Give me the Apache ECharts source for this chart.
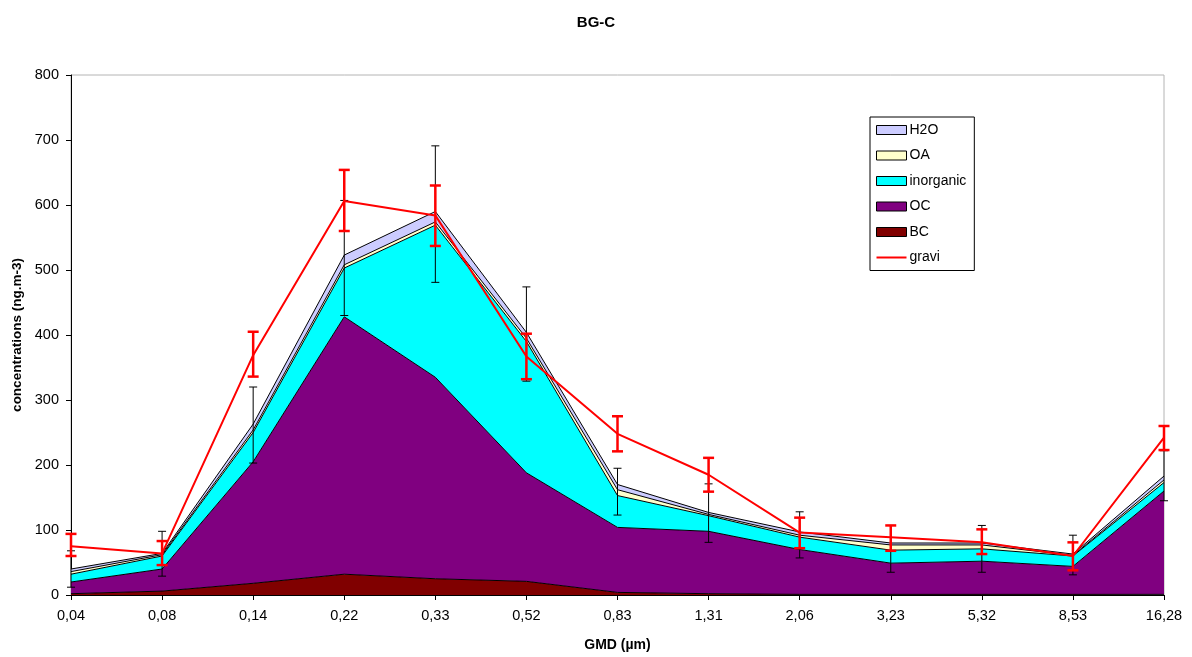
<!DOCTYPE html>
<html>
<head>
<meta charset="utf-8">
<script src="https://cdn.jsdelivr.net/npm/echarts@6/dist/echarts.min.js"></script>
<style>html,body{margin:0;padding:0;background:#fff;}#c{width:1192px;height:657px;}</style>
</head>
<body>
<div id="c"></div>
<script>
var categories = ['0,04','0,08','0,14','0,22','0,33','0,52','0,83','1,31','2,06','3,23','5,32','8,53','16,28'];
var BC        = [2, 6, 18, 32, 25, 21, 4, 2, 1, 1, 1, 1, 1];
var OC        = [18, 34, 187, 396, 310, 167, 100, 96, 69, 48, 51, 43, 159];
var inorganic = [12, 20, 45, 75, 234, 202, 49, 24, 19, 20, 19, 16, 13];
var OA        = [4, 2, 4, 5, 5, 5, 9, 2, 3, 8, 6, 1, 4];
var H2O       = [4, 2, 9, 15, 16, 9, 8, 3, 5, 3, 3, 2, 6];
var gravi     = [75, 64, 369, 606, 584, 367, 248, 185, 96, 89, 81, 60, 242];
var graviLow  = [60, 46, 336, 560, 537, 332, 221, 159, 72, 68, 63, 38, 223];
var graviHigh = [94, 83, 405, 654, 630, 402, 275, 211, 119, 107, 101, 81, 260];
var totalLow  = [12, 29, 203, 430, 481, 329, 123, 81, 57, 35, 35, 31, 145];
var totalHigh = [68, 98, 320, 607, 691, 474, 195, 171, 128, 107, 107, 92, 222];
var yTicks = [0, 100, 200, 300, 400, 500, 600, 700, 800];

var FONT = 'Liberation Sans, Arial, sans-serif';

function errData(lo, hi) {
  return lo.map(function (v, i) { return [i, v, hi[i]]; });
}
function errRender(color, width, cap) {
  return function (params, api) {
    var x = api.value(0);
    var p1 = api.coord([x, api.value(1)]);
    var p2 = api.coord([x, api.value(2)]);
    var st = { stroke: color, lineWidth: width };
    return {
      type: 'group',
      children: [
        { type: 'line', shape: { x1: p1[0], y1: p1[1], x2: p2[0], y2: p2[1] }, style: st },
        { type: 'line', shape: { x1: p1[0] - cap, y1: p1[1], x2: p1[0] + cap, y2: p1[1] }, style: st },
        { type: 'line', shape: { x1: p2[0] - cap, y1: p2[1], x2: p2[0] + cap, y2: p2[1] }, style: st }
      ]
    };
  };
}
function area(name, data, color) {
  return {
    name: name, type: 'line', stack: 'total', data: data,
    symbol: 'none', smooth: false,
    lineStyle: { color: '#000', width: 1 },
    itemStyle: { color: color },
    areaStyle: { color: color, opacity: 1 },
    emphasis: { disabled: true },
    z: 2
  };
}

var chart = echarts.init(document.getElementById('c'), null, { renderer: 'canvas' });
chart.setOption({
  animation: false,
  backgroundColor: '#fff',
  title: {
    text: 'BG-C', left: 'center', top: 10,
    textStyle: { fontFamily: FONT, fontSize: 15, fontWeight: 'bold', color: '#000' }
  },
  legend: {
    orient: 'vertical', left: 870, top: 117,
    backgroundColor: '#fff', borderColor: '#000', borderWidth: 1,
    padding: [6, 8, 6, 6],
    itemWidth: 30, itemHeight: 9, itemGap: 11.5,
    textStyle: { fontFamily: FONT, fontSize: 14, color: '#000', padding: [0, 0, 0, -2] },
    data: [
      { name: 'H2O', icon: 'rect', itemStyle: { color: '#ccccff', borderColor: '#000', borderWidth: 1 } },
      { name: 'OA', icon: 'rect', itemStyle: { color: '#ffffcc', borderColor: '#000', borderWidth: 1 } },
      { name: 'inorganic', icon: 'rect', itemStyle: { color: '#00ffff', borderColor: '#000', borderWidth: 1 } },
      { name: 'OC', icon: 'rect', itemStyle: { color: '#800080', borderColor: '#000', borderWidth: 1 } },
      { name: 'BC', icon: 'rect', itemStyle: { color: '#800000', borderColor: '#000', borderWidth: 1 } },
      { name: 'gravi', icon: 'path://M0,0 L30,0 L30,2 L0,2 Z', itemStyle: { color: '#ff0000', borderWidth: 0 } }
    ]
  },
  grid: { left: 71, right: 28, top: 75, bottom: 59, containLabel: false,
          show: true, borderColor: '#b4b4b4', borderWidth: 1, backgroundColor: 'transparent' },
  xAxis: {
    type: 'category', data: categories, boundaryGap: false,
    name: 'GMD (µm)', nameLocation: 'middle', nameGap: 43,
    nameTextStyle: { fontFamily: FONT, fontSize: 14, fontWeight: 'bold', color: '#000' },
    axisLine: { lineStyle: { color: '#000', width: 1 } },
    axisTick: { alignWithLabel: true, length: 5, lineStyle: { color: '#000' } },
    axisLabel: { fontFamily: FONT, fontSize: 14.5, color: '#000', margin: 13 },
    splitLine: { show: false }
  },
  yAxis: {
    type: 'value', min: yTicks[0], max: yTicks[yTicks.length - 1], interval: 100,
    name: 'concentrations (ng.m-3)', nameLocation: 'middle', nameGap: 45,
    nameTextStyle: { fontFamily: FONT, fontSize: 13.5, fontWeight: 'bold', color: '#000' },
    axisLine: { show: true, lineStyle: { color: '#000', width: 1 } },
    axisTick: { show: true, length: 5, lineStyle: { color: '#000' } },
    axisLabel: { fontFamily: FONT, fontSize: 14.5, color: '#000', margin: 12 },
    splitLine: { show: false }
  },
  series: [
    area('BC', BC, '#800000'),
    area('OC', OC, '#800080'),
    area('inorganic', inorganic, '#00ffff'),
    area('OA', OA, '#ffffcc'),
    area('H2O', H2O, '#ccccff'),
    {
      name: 'totalErr', type: 'custom', data: errData(totalLow, totalHigh),
      renderItem: errRender('#000', 1, 4), encode: { x: 0, y: [1, 2] }, z: 3, silent: true
    },
    {
      name: 'gravi', type: 'line', data: gravi, symbol: 'none',
      lineStyle: { color: '#ff0000', width: 2 }, itemStyle: { color: '#ff0000' }, z: 4
    },
    {
      name: 'graviErr', type: 'custom', data: errData(graviLow, graviHigh),
      renderItem: errRender('#ff0000', 2.5, 5.5), encode: { x: 0, y: [1, 2] }, z: 5, silent: true
    }
  ]
});
</script>
</body>
</html>
